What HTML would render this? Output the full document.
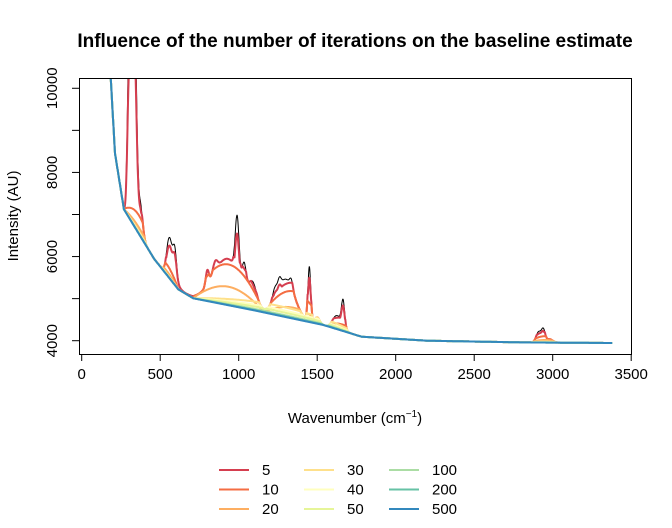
<!DOCTYPE html>
<html><head><meta charset="utf-8"><style>
body{margin:0;background:#fff;}
svg{display:block;font-family:"Liberation Sans",Arial,sans-serif;}
</style></head><body>
<svg id="chart" width="672" height="528" viewBox="0 0 672 528" xmlns="http://www.w3.org/2000/svg">
<rect width="672" height="528" fill="#fff"/>
<text x="355" y="47" text-anchor="middle" font-size="19" font-weight="bold">Influence of the number of iterations on the baseline estimate</text>
<defs><clipPath id="clip"><rect x="79" y="78" width="553" height="276"/></clipPath></defs>
<g id="series" clip-path="url(#clip)"></g>
<rect x="79.5" y="78.5" width="552" height="276" fill="none" stroke="#000" stroke-width="1"/>
<g id="axes"></g>
<text transform="translate(18,216) rotate(-90)" text-anchor="middle" font-size="15">Intensity (AU)</text>
<text x="355" y="423" text-anchor="middle" font-size="15">Wavenumber (cm<tspan dy="-6" font-size="10">−1</tspan><tspan dy="6">)</tspan></text>
<g id="legend"></g>
</svg>
<script>
// data
const baseX = [185, 212, 269, 462, 615, 711, 1100, 1539, 1783, 2200, 2800, 3380];
const baseY = [10237, 8454, 7123, 5942, 5222, 5008, 4720, 4373, 4095, 4000, 3960, 3945];
const peakPos    = [300, 325, 345, 372, 545, 562, 575, 592, 800, 850, 930, 990, 1035, 1090, 1230, 1260, 1300, 1335, 1450, 1500, 1610, 1640, 1665, 2910, 2940, 2980];
const peakHeight = [3500,6000,2500, 800, 300, 600, 300, 650, 350, 250,1100,1300, 500, 450, 250, 200, 900, 200,1300, 150, 150, 250, 600, 250, 300,  80];
const peakWidth  = [10,  12,  10,  15,  10,  12,  30,  12,  10,  15,  90,  12,  12,  25,  15,  10,  55,  10,   9,  15,  20,  25,  10,  15,  12,  20];
const iterations = ["5","10","20","30","40","50","100","200","500"];
const iterColors = ["#D53E4F","#F46D43","#FDAE61","#FEE08B","#FFFFBF","#E6F598","#ABDDA4","#66C2A5","#3288BD"];
const iterPeakFrac = [0.8, 0, 0, 0, 0, 0, 0, 0, 0];
const hillStart = [269, 462, 711, 1160, 1539, 711, 2850];
const hillEnd   = [462, 615, 1160, 1539, 1783, 1783, 3050];
const hillHeights = [
  [600, 440, 150, 60, 30, 20, 5, 0, 0],
  [400, 250, 90, 30, 15, 10, 0, 0, 0],
  [1200, 970, 440, 0, 0, 0, 0, 0, 0],
  [850, 650, 260, 0, 0, 0, 0, 0, 0],
  [300, 150, 60, 20, 0, 0, 0, 0, 0],
  [0, 0, 0, 230, 150, 100, 40, 15, 0],
  [250, 150, 60, 25, 12, 8, 3, 0, 0]
];
const xTicks = [0,500,1000,1500,2000,2500,3000,3500];
const yTicks = [4000,5000,6000,7000,8000,9000,10000];
const yLabels = [4000,6000,8000,10000];

const NS="http://www.w3.org/2000/svg";
const sx = v => 81.7 + v*(631.2-81.7)/3500;
const sy = v => 340.7 - (v-4000)*0.04207;
function baseline(x){
  for(let i=0;i<baseX.length-1;i++){
    if(x<=baseX[i+1]){const t=(x-baseX[i])/(baseX[i+1]-baseX[i]);return baseY[i]+t*(baseY[i+1]-baseY[i]);}
  }
  return baseY[baseY.length-1];
}
function peaks(x,f){
  let v=0;
  for(let i=0;i<peakPos.length;i++){const d=(x-peakPos[i])/peakWidth[i];v+=peakHeight[i]*f*Math.exp(-0.5*d*d);}
  return v;
}
function hills(x,k){
  let v=0;
  for(let i=0;i<hillStart.length;i++){
    if(x>hillStart[i]&&x<hillEnd[i]){const t=(x-hillStart[i])/(hillEnd[i]-hillStart[i]);v+=hillHeights[i][k]*Math.pow(Math.sin(Math.PI*t),0.9);}
  }
  return v;
}
const grid=[];for(let x=185;x<=3380;x+=2)grid.push(x);
const spectrum=grid.map(x=>baseline(x)+peaks(x,1));
const series=document.getElementById('series');
function poly(vals,color,w,name){
  const p=document.createElementNS(NS,'polyline');
  p.setAttribute('points',grid.map((x,i)=>sx(x).toFixed(1)+','+sy(vals[i]).toFixed(1)).join(' '));
  p.setAttribute('fill','none');p.setAttribute('stroke',color);p.setAttribute('stroke-width',w);p.setAttribute('stroke-linejoin','round');
  
  
  series.appendChild(p);
}
poly(spectrum,'#000',1,'spectrum-line');
iterations.forEach((it,k)=>{
  const vals=grid.map((x,i)=>Math.min(spectrum[i],baseline(x)+Math.max(hills(x,k),peaks(x,iterPeakFrac[k]))));
  poly(vals,iterColors[k],2,'baseline-'+it);
});
const axes=document.getElementById('axes');
function el(tag,attrs){const e=document.createElementNS(NS,tag);for(const k in attrs)e.setAttribute(k,attrs[k]);axes.appendChild(e);return e;}
xTicks.forEach(t=>{
  const l=el('line',{x1:sx(t),x2:sx(t),y1:354,y2:361,stroke:'#000'});
  
  
  const tx=el('text',{x:sx(t),y:379,'text-anchor':'middle','font-size':15});tx.textContent=t;
  
  
});
yTicks.forEach(t=>{
  const l=el('line',{x1:72,x2:79,y1:sy(t),y2:sy(t),stroke:'#000'});
  
  
});
yLabels.forEach(t=>{
  const tx=el('text',{transform:`translate(57,${sy(t)}) rotate(-90)`,'text-anchor':'middle','font-size':15});tx.textContent=t;
  
  
});
const leg=document.getElementById('legend');
iterations.forEach((it,k)=>{
  const col=Math.floor(k/3),row=k%3;
  const x0=[219,304,389][col],y0=470+row*19.5;
  const g=document.createElementNS(NS,'g');
  
  
  const l=document.createElementNS(NS,'line');
  l.setAttribute('x1',x0);l.setAttribute('x2',x0+30);l.setAttribute('y1',y0);l.setAttribute('y2',y0);
  l.setAttribute('stroke',iterColors[k]);l.setAttribute('stroke-width',2);
  const t=document.createElementNS(NS,'text');
  t.setAttribute('x',x0+43);t.setAttribute('y',y0+5);t.setAttribute('font-size',15);t.textContent=it;
  g.appendChild(l);g.appendChild(t);leg.appendChild(g);
});
</script>
</body></html>
